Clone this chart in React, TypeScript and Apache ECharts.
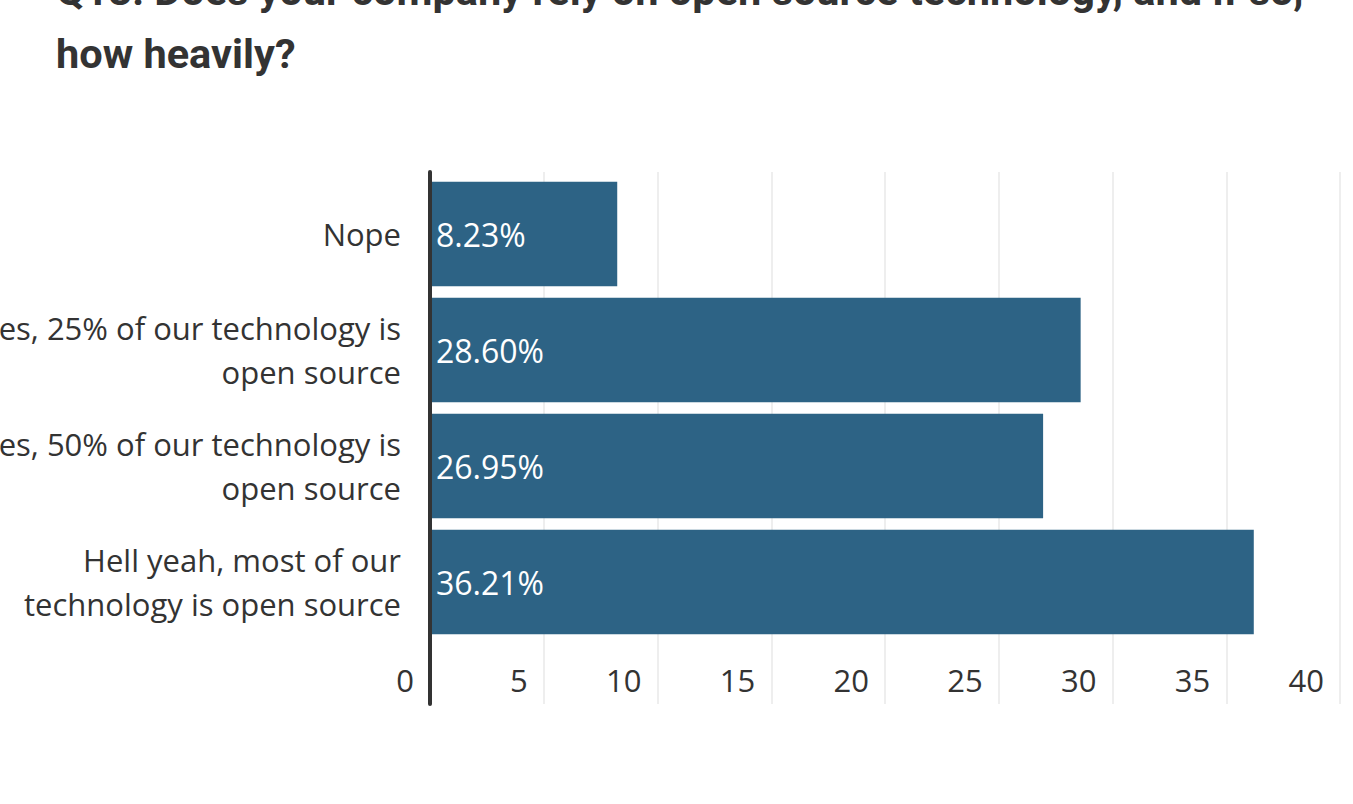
import React, { useEffect, useRef } from "react";
import * as echarts from "echarts";

const titleLines = [
  "Q13: Does your company rely on open source technology, and if so,",
  "how heavily?",
];
const categories = [
  "Nope",
  "Yes, 25% of our technology is\nopen source",
  "Yes, 50% of our technology is\nopen source",
  "Hell yeah, most of our\ntechnology is open source",
];
const values = [8.23, 28.6, 26.95, 36.21];
const axisMin = 0;
const axisMax = 40;
const axisStep = 5;

const FONT = "'Open Sans', sans-serif";
const BAR_COLOR = "#2d6385";
const TEXT_COLOR = "#333333";

export default function App() {
  const ref = useRef<HTMLDivElement>(null);
  useEffect(() => {
    if (!ref.current) return;
    const chart = echarts.init(ref.current, undefined, { renderer: "svg" });
    chart.setOption({
      animation: false,
      backgroundColor: "#ffffff",
      title: {
        text: titleLines.join("\n"),
        left: 56,
        top: -41,
        padding: 0,
        textStyle: {
          fontFamily: "Roboto, sans-serif",
          fontWeight: "bold",
          fontSize: 41.5,
          lineHeight: 63,
          color: TEXT_COLOR,
        },
      },
      grid: [
        {
          left: 430,
          right: 13,
          top: 176,
          height: 464,
          containLabel: false,
          outerBoundsMode: "none",
        },
        {
          left: 430,
          right: 13,
          top: 172,
          bottom: 100,
          containLabel: false,
          outerBoundsMode: "none",
        },
      ],
      xAxis: [
        {
          gridIndex: 0,
          type: "value",
          min: axisMin,
          max: axisMax,
          interval: axisStep,
          show: false,
        },
        {
          gridIndex: 1,
          type: "value",
          min: axisMin,
          max: axisMax,
          interval: axisStep,
          position: "bottom",
          axisLine: { show: false },
          axisTick: { show: false },
          splitLine: { show: true, lineStyle: { color: "#eeeeee", width: 2 } },
          axisLabel: {
            inside: true,
            margin: 9,
            align: "right",
            padding: [0, 16, 0, 0],
            fontFamily: FONT,
            fontSize: 31,
            color: TEXT_COLOR,
          },
        },
      ],
      yAxis: [
        {
          gridIndex: 0,
          type: "category",
          inverse: true,
          data: categories,
          axisLine: { show: false },
          axisTick: { show: false },
          splitLine: { show: false },
          axisLabel: {
            margin: 29,
            align: "right",
            fontFamily: FONT,
            fontSize: 31,
            lineHeight: 44,
            color: TEXT_COLOR,
          },
        },
        {
          gridIndex: 1,
          type: "value",
          min: 0,
          max: 1,
          z: 10,
          axisLine: { show: true, lineStyle: { color: "#333333", width: 4 } },
          axisTick: { show: false },
          axisLabel: { show: false },
          splitLine: { show: false },
        },
      ],
      series: [
        {
          type: "bar",
          xAxisIndex: 0,
          yAxisIndex: 0,
          data: values,
          barCategoryGap: "10%",
          itemStyle: { color: BAR_COLOR },
          label: {
            show: true,
            position: "insideLeft",
            distance: 6,
            fontFamily: FONT,
            fontSize: 32,
            color: "#ffffff",
            formatter: (p: any) => p.value.toFixed(2) + "%",
          },
        },
      ],
    });
    return () => chart.dispose();
  }, []);
  return (
    <div
      ref={ref}
      style={{ position: "fixed", left: 0, top: 0, width: 1353, height: 804 }}
    />
  );
}
